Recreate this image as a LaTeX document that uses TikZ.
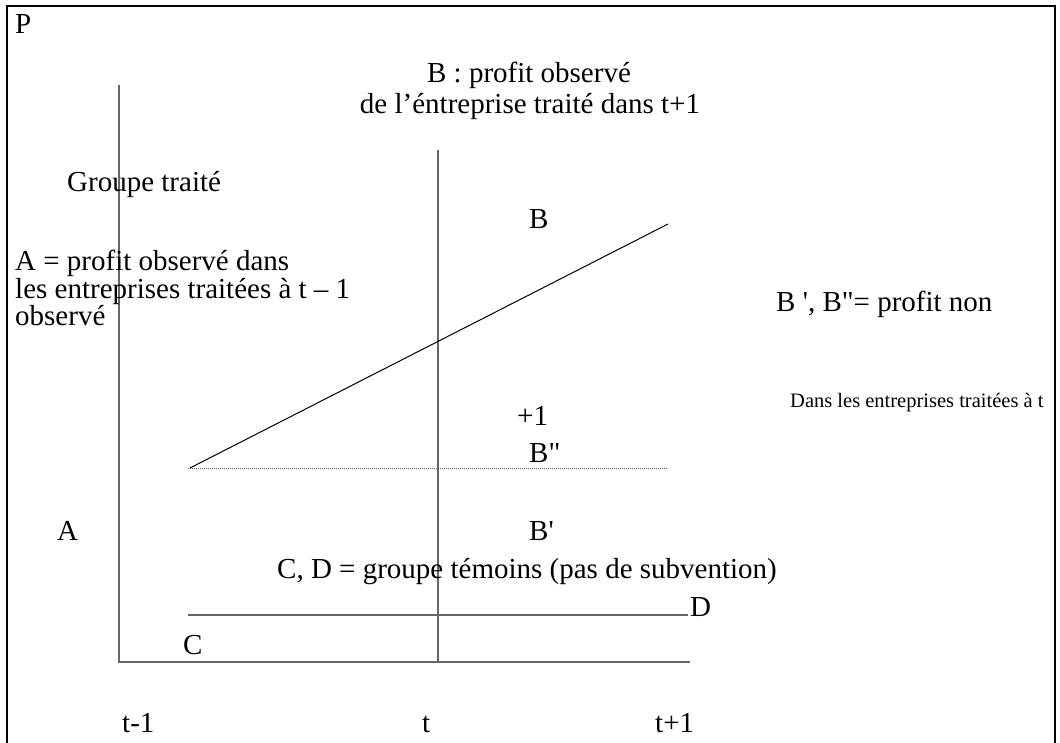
\documentclass[tikz,border=0pt]{standalone}
\usepackage{fontspec}
\newfontfamily\rawfont{Liberation Serif}
\begin{document}
\begin{tikzpicture}[x=1pt,y=-1pt,
  txt/.style={font=\rawfont\fontsize{29}{30}\selectfont, inner sep=0pt, anchor=base west},
  ctxt/.style={txt, anchor=base},
  smalltxt/.style={font=\rawfont\fontsize{20.5}{22}\selectfont, inner sep=0pt, anchor=base west},
  frame/.style={line width=2.5pt, black},
  axisline/.style={line width=1.5pt, black!60},
  thinline/.style={line width=1pt, black},
  dotline/.style={line width=1pt, black!60, dash pattern=on 1pt off 1pt}]
\useasboundingbox (0,0) rectangle (1060,742);
% frame
\coordinate (f1) at (7,745);
\coordinate (f2) at (7,6);
\coordinate (f3) at (1055,6);
\coordinate (f4) at (1055,745);
\draw[frame] (f1) -- (f2) -- (f3) -- (f4);
% axes and lines
\coordinate (yTop) at (119,85);
\coordinate (origin) at (119,662);
\coordinate (xEnd) at (690,662);
\coordinate (tTop) at (438,150);
\coordinate (tBot) at (438,662);
\coordinate (diagS) at (190,468);
\coordinate (diagE) at (668,224);
\coordinate (dotS) at (188,468);
\coordinate (dotE) at (668,468);
\coordinate (cdS) at (188,615);
\coordinate (cdE) at (688,615);
\draw[axisline] (yTop) -- (origin) -- (xEnd);
\draw[axisline] (tTop) -- (tBot);
\draw[axisline] (cdS) -- (cdE);
\draw[dotline] (dotS) -- (dotE);
\draw[thinline] (diagS) -- (diagE);
% texts
\node[txt] (P) at (15,33) {P};
\node[ctxt] (top1) at (529,82) {B : profit observé};
\node[ctxt] (top2) at (530,113) {de l’éntreprise traité dans t+1};
\node[txt] (grp) at (67,191) {Groupe traité};
\node[txt] (Btop) at (529,228) {B};
\node[txt] (A1) at (15,270) {A = profit observé dans};
\node[txt] (A2) at (15,298) {les entreprises traitées à t – 1};
\node[txt] (A3) at (15,325) {observé};
\node[txt] (Bnon) at (776,311) {B ', B"= profit non};
\node[smalltxt] (Dans) at (790,407) {Dans les entreprises traitées à t};
\node[txt] (p1) at (517,425) {+1};
\node[txt] (Bsec) at (529,462) {B"};
\node[txt] (Alone) at (57,540) {A};
\node[txt] (Bpr) at (529,540) {B'};
\node[ctxt] (CD) at (527,578) {C, D = groupe témoins (pas de subvention)};
\node[txt] (Dlab) at (690,616) {D};
\node[txt] (Clab) at (183,654) {C};
\node[txt] (tm1) at (122,732) {t-1};
\node[txt] (tt) at (422,732) {t};
\node[txt] (tp1) at (655,732) {t+1};
\end{tikzpicture}
\end{document}
